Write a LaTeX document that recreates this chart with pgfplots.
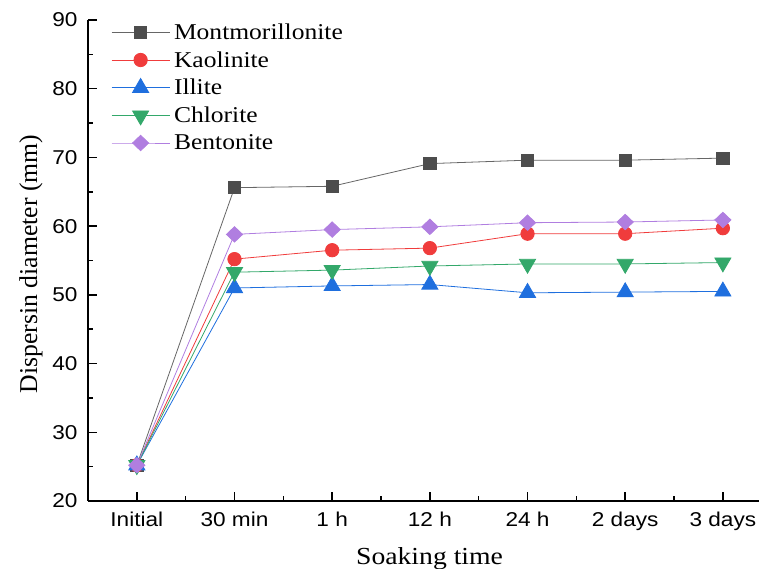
\documentclass[border=0pt]{standalone}
\usepackage{fontspec}
\setmainfont{Liberation Serif}
\newfontfamily\tickfont{Liberation Sans}[FakeStretch=1.13]
\newfontfamily\labfont{Liberation Serif}[FakeStretch=1.13]
\usepackage{pgfplots}
\pgfplotsset{compat=1.18}
\definecolor{cMon}{HTML}{4D4D4D}
\definecolor{cMonL}{HTML}{666666}
\definecolor{cKao}{HTML}{F03C3C}
\definecolor{cIll}{HTML}{1F6FDE}
\definecolor{cChl}{HTML}{33A86A}
\definecolor{cBen}{HTML}{B07EE0}
\begin{document}
\begin{tikzpicture}
\useasboundingbox (-88pt,-68pt) rectangle (671pt,501pt);
\begin{axis}[
  at={(0,0)}, anchor=south west,
  scale only axis, width=671pt, height=481pt,
  xmin=-0.5, xmax=6.37, ymin=20, ymax=90,
  axis x line*=bottom, axis y line*=left,
  axis line style={line width=1.5pt, black},
  xtick={0,...,6},
  xticklabels={Initial,30 min,1 h,12 h,24 h,2 days,3 days},
  minor xtick={0.5,1.5,...,5.5},
  ytick={20,30,...,90}, minor ytick={25,35,...,85},
  tick align=inside,
  major tick length=9pt, minor tick length=5pt,
  every tick/.style={black, line width=1.5pt},
  tick label style={font=\fontsize{20}{24}\selectfont\tickfont},
  /pgf/number format/assume math mode=true,
  xticklabel style={yshift=-7.5pt},
  yticklabel style={xshift=-7pt},
  xlabel={Soaking time},
  xlabel style={font=\fontsize{24.5}{29}\selectfont\labfont, inner sep=0pt, anchor=north, at={(axis description cs:0.509,0)}, yshift=-46pt},
  ylabel={Dispersin diameter (mm)},
  ylabel style={font=\fontsize{25.7}{30}\selectfont, inner sep=0pt, rotate=0, anchor=center, at={(axis description cs:-0.0852,0.493)}},
  legend cell align=left,
  legend style={draw=none, fill=none, inner sep=0pt, font=\fontsize{22.6}{27}\selectfont\labfont,
    at={(axis description cs:0.0343,0.997)}, anchor=north west, row sep=6.6pt, column sep=2pt},
  legend image code/.code={\draw[mark repeat=2,mark phase=2] plot coordinates {(0pt,0pt) (29pt,0pt) (58pt,0pt)};},
  every axis plot/.append style={line width=0.8pt},
]
\addplot[color=cMonL, mark=square*, mark size=6.2pt, mark options={fill=cMon, draw=cMon, solid}] coordinates {
 (0,25.2) (1,65.6) (2,65.8) (3,69.1) (4,69.6) (5,69.6) (6,69.9)};
\addlegendentry{Montmorillonite}
\addplot[color=cKao, mark=*, mark size=6.7pt, mark options={fill=cKao, draw=cKao}] coordinates {
 (0,25.2) (1,55.2) (2,56.5) (3,56.8) (4,58.9) (5,58.9) (6,59.7)};
\addlegendentry{Kaolinite}
\addplot[color=cIll, mark=triangle*, mark size=9.3pt, mark options={fill=cIll, draw=cIll}] coordinates {
 (0,25.2) (1,51.0) (2,51.3) (3,51.5) (4,50.3) (5,50.4) (6,50.5)};
\addlegendentry{Illite}
\addplot[color=cChl, mark=triangle*, mark size=9.3pt, mark options={fill=cChl, draw=cChl, rotate=180}] coordinates {
 (0,25.2) (1,53.3) (2,53.6) (3,54.2) (4,54.5) (5,54.5) (6,54.7)};
\addlegendentry{Chlorite}
\addplot[color=cBen, mark=diamond*, mark size=7.7pt, mark options={fill=cBen, draw=cBen, xscale=1.4}] coordinates {
 (0,25.2) (1,58.8) (2,59.5) (3,59.9) (4,60.5) (5,60.6) (6,60.9)};
\addlegendentry{Bentonite}
\end{axis}
\end{tikzpicture}
\end{document}
